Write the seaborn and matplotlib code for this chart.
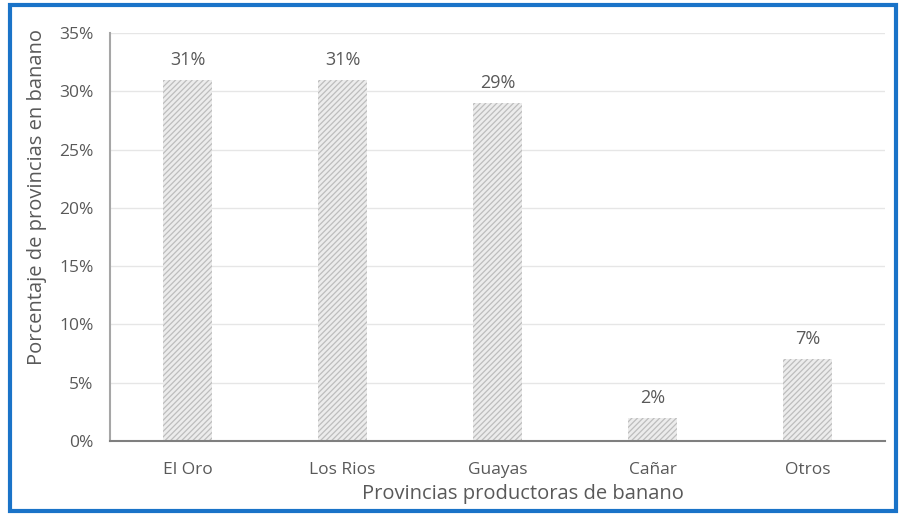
import matplotlib
matplotlib.use("Agg")
import matplotlib.pyplot as plt
import seaborn as sns
import pandas as pd
from matplotlib.patches import Rectangle
from matplotlib.ticker import PercentFormatter

provincias = ["El Oro", "Los Rios", "Guayas", "Cañar", "Otros"]
porcentajes = [31, 31, 29, 2, 7]
y_ticks = [0, 5, 10, 15, 20, 25, 30, 35]

df = pd.DataFrame({"provincia": provincias, "pct": porcentajes})

sns.set_theme(style="white")
plt.rcParams["font.family"] = ["Open Sans", "DejaVu Sans"]
plt.rcParams["hatch.linewidth"] = 0.9

fig = plt.figure(figsize=(9.04, 5.16), dpi=100)
ax = fig.add_axes([110 / 904, 1 - 441 / 516, 775 / 904, 408 / 516])

sns.barplot(data=df, x="provincia", y="pct", ax=ax, width=0.31,
            color="#ececec", saturation=1)
for bar in ax.patches:
    bar.set_hatch("//////")
    bar.set_edgecolor("#bdbdbd")
    bar.set_linewidth(0)

for bar, v in zip(ax.patches, porcentajes):
    ax.annotate(f"{v}%", (bar.get_x() + bar.get_width() / 2, v),
                xytext=(0, 8), textcoords="offset points",
                ha="center", va="bottom", fontsize=13, color="#595959")

ax.set_ylim(0, 35)
ax.set_yticks(y_ticks)
ax.yaxis.set_major_formatter(PercentFormatter(decimals=0))
ax.set_xlim(-0.5, len(provincias) - 0.5)
ax.grid(axis="y", color="#e6e6e6", linewidth=1)
ax.set_axisbelow(True)

for s in ["top", "right"]:
    ax.spines[s].set_visible(False)
ax.spines["left"].set_color("#a6a6a6")
ax.spines["left"].set_linewidth(1.5)
ax.spines["bottom"].set_color("#7f7f7f")
ax.spines["bottom"].set_linewidth(1.5)

ax.tick_params(axis="both", length=0, labelsize=12.5, labelcolor="#595959")
ax.tick_params(axis="x", pad=15)
ax.tick_params(axis="y", pad=12)

ax.set_xlabel("Provincias productoras de banano", fontsize=14.5, color="#595959")
ax.set_ylabel("Porcentaje de provincias en banano", fontsize=14.5, color="#595959")
ax.xaxis.set_label_coords(0.533, -0.105)
ax.yaxis.set_label_coords(-0.081, 0.598)

fig.add_artist(Rectangle((10 / 904, 5 / 516), 886 / 904, 506 / 516,
                         transform=fig.transFigure, fill=False,
                         edgecolor="#1a73c8", linewidth=3))

fig.savefig("out.png", dpi=100)
